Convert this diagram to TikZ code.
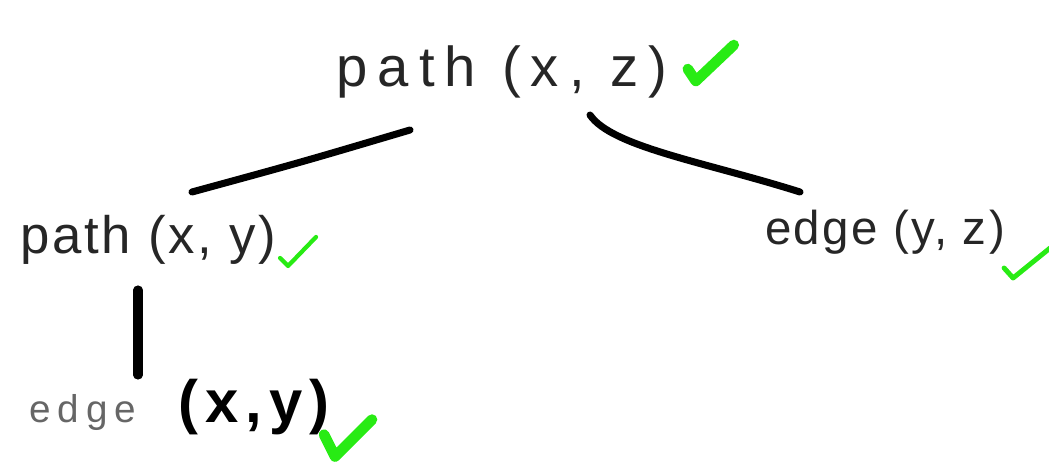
\documentclass[tikz,border=0pt]{standalone}
\usepackage{fontspec}
\setmainfont{Liberation Sans}
\newfontfamily\hand[LetterSpace=18]{Liberation Sans}
\newfontfamily\handn[LetterSpace=5]{Liberation Sans}
\newfontfamily\handbf[LetterSpace=12]{Liberation Sans}
\usetikzlibrary{calc}
\definecolor{tickgreen}{RGB}{40,235,20}

\tikzset{
  term/.style={inner sep=1pt,text=black!85,font=\hand\fontsize{16}{18}\selectfont},
  branch/.style={black,line width=2.6pt,line cap=round},
  tick/.style={tickgreen,line cap=round,line join=round}
}

\begin{document}
\begin{tikzpicture}[x=0.01cm,y=-0.01cm]
  \useasboundingbox (0,0) rectangle (1049,464);
  \node[term] (root) at (502,72) {path (x, z)};
  \node[term,font=\handn\fontsize{15}{18}\selectfont] (left) at (148,240) {path (x, y)};
  \node[term,font=\handn\fontsize{13.5}{16}\selectfont] (right) at (885,232) {edge (y, z)};
  \node[term,anchor=base west] (leaf) at (25,422)
    {{\fontsize{11}{14}\selectfont\color{black!60}edge}\hspace{0.42cm}{\handbf\bfseries\fontsize{17}{18}\selectfont\color{black}(x,y)}};
  % tree edges
  \draw[branch,line width=2pt] ($(root)+(-92,58)$) .. controls ($(root)+(-200,90)$) .. ($(left)+(44,-48)$);
  \draw[branch,line width=2pt] ($(root)+(88,43)$) .. controls ($(root)+(110,75)$) and ($(right)+(-180,-70)$) .. ($(right)+(-85,-40)$);
  \draw[branch] ($(left)+(-10,50)$) -- ($(leaf.base west)+(113,-47)$);
  % checks
  \draw[tick,line width=3pt] ($(root.east)+(16,-3)$) -- ++(8,12) -- ++(38,-36);
  \draw[tick,line width=1.2pt] ($(left.east)+(0,18)$) -- ++(8,8) -- ++(28,-29);
  \draw[tick,line width=1.4pt] ($(right.east)+(-5,36)$) -- ++(9,10) -- ++(37,-30);
  \draw[tick,line width=3pt] ($(leaf.east)+(-10,28)$) -- ++(11,22) -- ++(37,-37);
\end{tikzpicture}
\end{document}
